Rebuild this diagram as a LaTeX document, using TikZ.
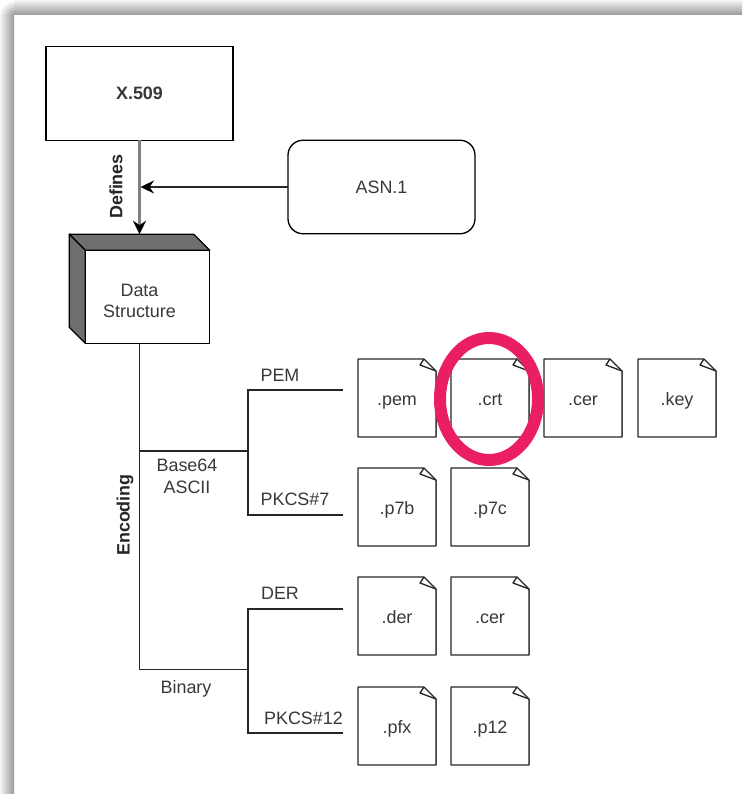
\documentclass[tikz,border=0pt]{standalone}
\usepackage{fontspec}
\setmainfont{Liberation Sans}
\usetikzlibrary{arrows.meta,positioning,shapes.geometric}
\definecolor{markred}{RGB}{233,30,99}
\definecolor{cubegray}{RGB}{110,110,110}

\begin{document}
\begin{tikzpicture}[node distance=0.3cm,line width=0.75pt,
  txt/.style={font=\fontsize{10.2}{12.2}\selectfont,text=black!78,align=center,inner sep=0pt},
  btxt/.style={font=\fontsize{10.2}{12.2}\selectfont\bfseries,text=black!85,inner sep=0pt},
  c/.style={draw,txt,outer sep=0pt,minimum width=3.74cm,minimum height=1.87cm},
  f/.style={txt,outer sep=0pt,minimum size=1.56cm,text height=0.34cm,text depth=0.06cm}]
  \useasboundingbox (0,0) rectangle (14.84,-15.88);
  \begin{scope}
    \clip (0,0) rectangle (0.28,-0.3);
    \shade[inner color=gray!80,outer color=white] (0.28,-0.3) circle (0.29);
  \end{scope}
  \shade[top color=gray!8,bottom color=gray!80,draw=none] (0.28,0) rectangle (14.84,-0.3);
  \shade[left color=gray!8,right color=gray!80,draw=none] (0,-0.3) rectangle (0.28,-15.88);

  \node[c,font=\fontsize{10.2}{12.2}\selectfont\bfseries] (x509) at (2.79,-1.87) {\raisebox{-0.02cm}{X.509}};
  \node[c,rounded corners=0.3cm] (asn) at (7.63,-3.74) {ASN.1};
  \node[minimum width=2.81cm,minimum height=2.18cm,outer sep=0pt,below=1.88cm of x509] (data) {};
  \draw[fill=white] ([xshift=0.32cm,yshift=-0.32cm]data.north west) rectangle (data.south east);
  \draw[fill=cubegray,line join=round] (data.north west) -- ([xshift=-0.32cm]data.north east) -- ([yshift=-0.32cm]data.north east)
    -- ([xshift=0.32cm,yshift=-0.32cm]data.north west) -- cycle;
  \draw[fill=cubegray,line join=round] (data.north west) -- ([xshift=0.32cm,yshift=-0.32cm]data.north west)
    -- ([xshift=0.32cm]data.south west) -- ([yshift=0.32cm]data.south west) -- cycle;
  \node[txt] (datatxt) at (2.79,-6.02) {Data\\Structure};

  \node[f] (pem) at (7.94,-7.96) {.pem};
  \node[f,right=of pem] (crt) {.crt};
  \node[f,right=of crt] (cer) {.cer};
  \node[f,right=0.32cm of cer] (key) {.key};
  \node[f,below=0.62cm of pem] (p7b) {.p7b};
  \node[f,right=of p7b] (p7c) {.p7c};
  \node[f,below=0.62cm of p7b] (der) {.der};
  \node[f,right=of der] (cerb) {.cer};
  \node[f,below=0.64cm of der] (pfx) {.pfx};
  \node[f,right=of pfx] (p12) {.p12};
  \foreach \n in {pem,crt,cer,key,p7b,p7c,der,cerb,pfx,p12} {
    \draw[gray,line width=1pt] ([xshift=0.01cm,yshift=-0.24cm]\n.north east) -- ([xshift=0.01cm]\n.south east);
    \draw[black!85,line join=round] ([xshift=-0.24cm]\n.north east) -- (\n.north west) -- (\n.south west) -- (\n.south east) -- ([yshift=-0.24cm]\n.north east) -- cycle;
    \draw[black!85,line join=round] ([xshift=-0.24cm]\n.north east) -- ([xshift=-0.32cm,yshift=-0.12cm]\n.north east) -- ([yshift=-0.24cm]\n.north east);
  }

  \draw[gray,line width=1.5pt,-{Stealth[black,length=0.27cm,width=0.26cm]}] (x509.south) -- (data.north);
  \draw[black!85,-{Stealth[black,length=0.27cm,width=0.26cm]},shorten >=0.02cm] (asn.west) -- (asn.west -| x509.south);
  \node[btxt,rotate=90] (defines) at (2.32,-3.73) {Defines};

  \coordinate (b64) at (2.79,-9.02);
  \coordinate (b64fork) at (4.96,-9.02);
  \coordinate (bin) at (2.79,-13.39);
  \coordinate (binfork) at (4.96,-13.39);
  \coordinate (pemtip) at (6.86,-7.8);
  \coordinate (p7tip) at (6.86,-10.3);
  \coordinate (dertip) at (6.86,-12.18);
  \coordinate (p12tip) at (6.86,-14.66);
  \draw[black!85] (data.south) -- (bin) -- (binfork);
  \draw[black!85] (b64) -- (b64fork);
  \draw[black!85] (pemtip) -| (b64fork) |- (p7tip);
  \draw[black!85] (dertip) -| (binfork) |- (p12tip);

  \node[btxt,rotate=90] (encoding) at (2.5,-10.3) {Encoding};
  \node[txt] (pemtxt) at (5.6,-7.5) {PEM};
  \node[txt] (p7txt) at (5.9,-9.98) {PKCS\#7};
  \node[txt] (dertxt) at (5.6,-11.86) {DER};
  \node[txt] (p12txt) at (6.07,-14.36) {PKCS\#12};
  \node[txt] (b64txt) at (3.74,-9.53) {Base64\\ASCII};
  \node[txt] (bintxt) at (3.72,-13.78) {Binary};

  \node[draw=markred,ellipse,line width=0.24cm,inner sep=0pt,minimum width=1.96cm,minimum height=2.44cm] (mark) at (9.78,-7.98) {};
\end{tikzpicture}
\end{document}
